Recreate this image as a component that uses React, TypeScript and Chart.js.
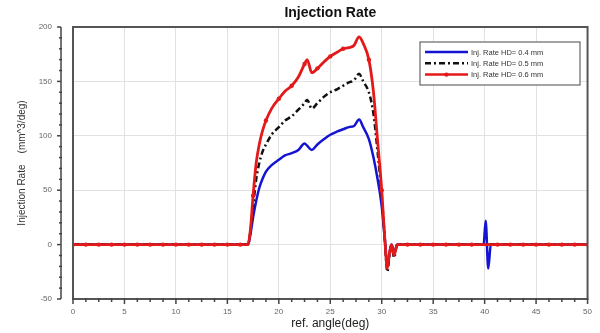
import React, { useEffect, useRef } from 'react';
import Chart from 'chart.js/auto';

const angle = [
  0, 1.25, 2.5, 3.75, 5, 6.25, 7.5, 8.75, 10, 11.25, 12.5, 13.75, 15, 16.25,
  17.0, 17.25, 17.5, 17.8, 18.1, 18.4, 18.75, 19.3, 20.0, 20.6, 21.25, 21.9,
  22.5, 22.75, 23.2, 23.75, 24.4, 25.0, 25.7, 26.25, 26.8, 27.3, 27.8, 28.2,
  28.75, 29.2, 29.6, 30.0, 30.3, 30.55, 30.75, 30.95, 31.2, 31.5, 32.5, 33.75,
  35, 36.25, 37.5, 38.75, 39.9, 40.1, 40.35, 40.6, 41.25, 42.5, 43.75, 45,
  46.25, 47.5, 48.75, 50,
];

const rate04 = [
  0, 0, 0, 0, 0, 0, 0, 0, 0, 0, 0, 0, 0, 0,
  0, 10, 25, 40, 52, 60, 67, 73, 78, 82, 84, 87,
  93, 91, 87, 92, 97, 101, 104, 106, 108, 109, 115, 108,
  97, 80, 60, 35, 5, -20, -8, 0, -8, 0, 0, 0,
  0, 0, 0, 0, 0, 22, -22, 0, 0, 0, 0, 0,
  0, 0, 0, 0,
];

const rate05 = [
  0, 0, 0, 0, 0, 0, 0, 0, 0, 0, 0, 0, 0, 0,
  0, 13, 35, 60, 75, 85, 92, 101, 108, 114, 118, 124,
  130, 133, 125, 130, 136, 140, 143, 146, 149, 151, 157, 150,
  140, 120, 85, 45, 5, -25, -10, 0, -12, 0, 0, 0,
  0, 0, 0, 0, 0, 0, 0, 0, 0, 0, 0, 0,
  0, 0, 0, 0,
];

const rate06 = [
  0, 0, 0, 0, 0, 0, 0, 0, 0, 0, 0, 0, 0, 0,
  0, 15, 45, 75, 92, 104, 114, 125, 134, 141, 146, 154,
  166, 170, 158, 162, 168, 173, 177, 180, 181, 183, 191, 185,
  170, 140, 95, 50, 5, -22, -8, 0, -10, 0, 0, 0,
  0, 0, 0, 0, 0, 0, 0, 0, 0, 0, 0, 0,
  0, 0, 0, 0,
];

const seriesLabels = [
  'Inj. Rate HD= 0.4 mm',
  'Inj. Rate HD= 0.5 mm',
  'Inj. Rate HD= 0.6 mm',
];
const chartTitle = 'Injection Rate';
const xTitle = 'ref. angle(deg)';
const yTitle = 'Injection Rate    (mm^3/deg)';
const xTicks = [0, 5, 10, 15, 20, 25, 30, 35, 40, 45, 50];
const yTicks = [-50, 0, 50, 100, 150, 200];

const BLUE = '#1414d2';
const BLACK = '#111111';
const RED = '#e41a1a';
const DASH = [6, 3, 2, 3];

export default function App() {
  const ref = useRef<HTMLCanvasElement>(null);

  useEffect(() => {
    document.body.style.margin = '0';
    const pts = (ys: number[]) => angle.map((x, i) => ({ x, y: ys[i] }));
    const isMarker = (x: number) => Math.abs(x / 1.25 - Math.round(x / 1.25)) < 1e-6;

    const decor = {
      id: 'decor',
      afterDraw(chart: any) {
        const { ctx, chartArea: a, scales } = chart;
        const xs = scales.x;
        const ys = scales.y;
        ctx.save();
        // frame
        ctx.strokeStyle = '#555';
        ctx.lineWidth = 2;
        ctx.strokeRect(a.left, a.top, a.right - a.left, a.bottom - a.top);
        // detached y axis line
        const ax = a.left - 12;
        ctx.lineWidth = 1.5;
        ctx.strokeStyle = '#444';
        ctx.beginPath();
        ctx.moveTo(ax, a.top);
        ctx.lineTo(ax, a.bottom);
        ctx.stroke();
        for (let v = yTicks[0]; v <= yTicks[yTicks.length - 1]; v += 10) {
          const py = ys.getPixelForValue(v);
          const major = yTicks.includes(v);
          ctx.beginPath();
          ctx.moveTo(ax - (major ? 4 : 2), py);
          ctx.lineTo(ax + (major ? 0 : 1), py);
          ctx.stroke();
        }
        // x axis minor/major ticks
        for (let v = xTicks[0]; v <= xTicks[xTicks.length - 1] + 1e-6; v += 1.25) {
          const px = xs.getPixelForValue(v);
          const major = xTicks.some((t) => Math.abs(t - v) < 1e-6);
          ctx.beginPath();
          ctx.moveTo(px, a.bottom - 1);
          ctx.lineTo(px, a.bottom + (major ? 5 : 3));
          ctx.stroke();
        }
        // title
        ctx.fillStyle = '#111';
        ctx.font = 'bold 14px "Liberation Sans", Arial, sans-serif';
        ctx.textAlign = 'center';
        ctx.textBaseline = 'middle';
        ctx.fillText(chartTitle, (a.left + a.right) / 2, 13);
        // legend
        const lx = 420, ly = 42, lw = 160, lh = 43;
        ctx.fillStyle = '#fff';
        ctx.fillRect(lx, ly, lw, lh);
        ctx.strokeStyle = '#666';
        ctx.lineWidth = 1.2;
        ctx.strokeRect(lx, ly, lw, lh);
        const colors = [BLUE, BLACK, RED];
        ctx.font = '7.5px "Liberation Sans", Arial, sans-serif';
        ctx.textAlign = 'left';
        seriesLabels.forEach((lab, i) => {
          const y = ly + 10 + i * 11.3;
          ctx.strokeStyle = colors[i];
          ctx.lineWidth = 2.5;
          ctx.setLineDash(i === 1 ? DASH : []);
          ctx.beginPath();
          ctx.moveTo(lx + 5, y);
          ctx.lineTo(lx + 48, y);
          ctx.stroke();
          ctx.setLineDash([]);
          if (i === 2) {
            ctx.fillStyle = RED;
            ctx.beginPath();
            ctx.arc(lx + 26.5, y, 2.2, 0, Math.PI * 2);
            ctx.fill();
          }
          ctx.fillStyle = '#333';
          ctx.fillText(lab, lx + 51, y + 0.5);
        });
        ctx.restore();
      },
    };

    const chart = new Chart(ref.current as HTMLCanvasElement, {
      type: 'line',
      data: {
        datasets: [
          {
            label: seriesLabels[0],
            data: pts(rate04),
            borderColor: BLUE,
            backgroundColor: BLUE,
            borderWidth: 2.5,
            pointRadius: 0,
            cubicInterpolationMode: 'monotone',
            order: 2,
          },
          {
            label: seriesLabels[1],
            data: pts(rate05),
            borderColor: BLACK,
            backgroundColor: BLACK,
            borderWidth: 2.5,
            borderDash: DASH,
            pointRadius: 0,
            cubicInterpolationMode: 'monotone',
            order: 1,
          },
          {
            label: seriesLabels[2],
            data: pts(rate06),
            borderColor: RED,
            backgroundColor: RED,
            borderWidth: 2.8,
            pointRadius: (c: any) => (isMarker(c.raw.x) ? 2.2 : 0),
            pointBorderWidth: 0,
            pointBackgroundColor: RED,
            cubicInterpolationMode: 'monotone',
            order: 0,
          },
        ] as any,
      },
      options: {
        animation: false,
        responsive: true,
        maintainAspectRatio: false,
        layout: { padding: { top: 27, right: 8, left: 0, bottom: 0 } },
        plugins: {
          legend: { display: false },
          title: { display: false },
          tooltip: { enabled: false },
        },
        scales: {
          x: {
            type: 'linear',
            min: 0,
            max: 50,
            afterBuildTicks: (s: any) => {
              s.ticks = xTicks.map((v) => ({ value: v }));
            },
            afterFit: (s: any) => {
              s.height = 34;
            },
            grid: { color: '#e2e2e2', lineWidth: 1, drawTicks: false },
            border: { display: false },
            ticks: {
              padding: 8,
              color: '#666',
              font: { size: 8, family: '"Liberation Sans", Arial, sans-serif' },
              maxRotation: 0,
            },
            title: {
              display: true,
              text: xTitle,
              color: '#222',
              font: { size: 12, family: '"Liberation Sans", Arial, sans-serif' },
              padding: { top: 0, bottom: 2 },
            },
          },
          y: {
            type: 'linear',
            min: -50,
            max: 200,
            afterBuildTicks: (s: any) => {
              s.ticks = yTicks.map((v) => ({ value: v }));
            },
            afterFit: (s: any) => {
              s.width = 73;
            },
            grid: { color: '#e2e2e2', lineWidth: 1, drawTicks: false },
            border: { display: false },
            ticks: {
              padding: 21,
              color: '#666',
              font: { size: 8, family: '"Liberation Sans", Arial, sans-serif' },
            },
            title: {
              display: true,
              text: yTitle,
              color: '#333',
              font: { size: 10, family: '"Liberation Sans", Arial, sans-serif' },
              padding: { top: 16, bottom: 0 },
            },
          },
        },
      },
      plugins: [decor],
    });
    return () => chart.destroy();
  }, []);

  return (
    <div style={{ width: 600, height: 333, position: 'relative', background: '#fff' }}>
      <canvas ref={ref} />
    </div>
  );
}
